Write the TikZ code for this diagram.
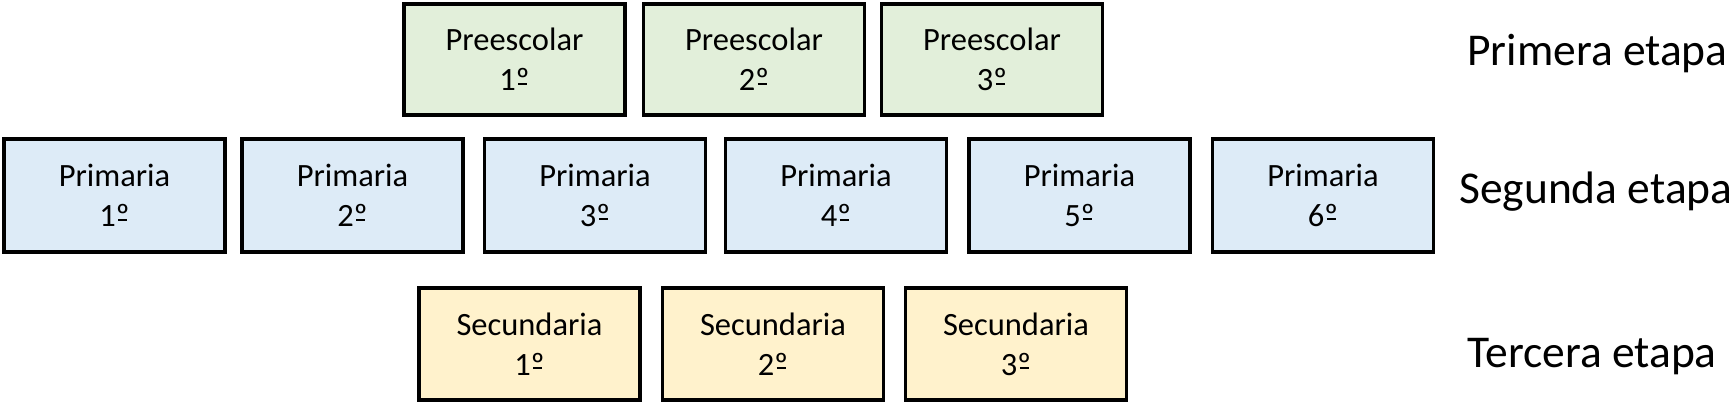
\documentclass[tikz,border=0pt]{standalone}
\usepackage{fontspec}
\setmainfont{Carlito}
\definecolor{verdeclaro}{HTML}{E2EFDA}
\definecolor{azulclaro}{HTML}{DDEBF7}
\definecolor{amarilloclaro}{HTML}{FFF2CC}
% ordinal sign with bar below, as in the reference font
\newcommand{\ordn}{{\ooalign{º\cr\hidewidth\rule[0.19em]{0.27em}{0.06em}\hidewidth\cr}}}
\tikzset{
  curso/.style={draw=black, line width=3.6pt, inner sep=0pt, align=center,
    minimum width=221pt, font=\fontsize{32.5}{40}\selectfont},
  preescolar/.style={curso, fill=verdeclaro, minimum height=111pt},
  primaria/.style={curso, fill=azulclaro, minimum height=113pt},
  secundaria/.style={curso, fill=amarilloclaro, minimum height=112pt},
  etapa/.style={anchor=base west, inner sep=0pt, font=\fontsize{45.5}{50}\selectfont}
}
\begin{document}
\begin{tikzpicture}[x=1pt, y=-1pt]
            \useasboundingbox (0,0) rectangle (1733,405);

            \def\ya{59.5}
            \def\yb{195.5}
            \def\yc{344}
            \def\xt{1467}

            % primera etapa
            \node[preescolar] (pre1) at (514.5, \ya) {Preescolar\\1\ordn};
            \node[preescolar] (pre2) at (754, \ya) {Preescolar\\2\ordn};
            \node[preescolar] (pre3) at (992, \ya) {Preescolar\\3\ordn};

            % segunda etapa
            \node[primaria] (pri1) at (114.5, \yb) {Primaria\\1\ordn};
            \node[primaria] (pri2) at (352.5, \yb) {Primaria\\2\ordn};
            \node[primaria] (pri3) at (595, \yb) {Primaria\\3\ordn};
            \node[primaria] (pri4) at (836, \yb) {Primaria\\4\ordn};
            \node[primaria] (pri5) at (1079.5, \yb) {Primaria\\5\ordn};
            \node[primaria] (pri6) at (1323, \yb) {Primaria\\6\ordn};

            % tercera etapa
            \node[secundaria] (sec1) at (529.5, \yc) {Secundaria\\1\ordn};
            \node[secundaria] (sec2) at (773, \yc) {Secundaria\\2\ordn};
            \node[secundaria] (sec3) at (1016, \yc) {Secundaria\\3\ordn};

            \node[etapa] (e1) at (\xt, 65) {Primera etapa};
            \node[etapa] (e2) at (1459, 203) {Segunda etapa};
            \node[etapa] (e3) at (\xt, 367) {Tercera etapa};

        \end{tikzpicture}
\end{document}
